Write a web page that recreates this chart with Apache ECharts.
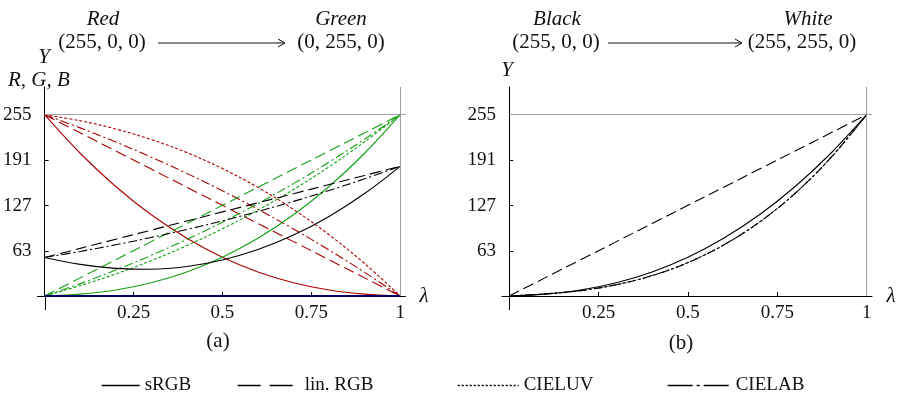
<!DOCTYPE html>
<html>
<head>
<meta charset="utf-8">
<script src="https://cdn.jsdelivr.net/npm/echarts@6/dist/echarts.min.js"></script>
<style>
  html, body { margin: 0; padding: 0; background: #fff; }
  #chart { width: 899px; height: 394px; }
</style>
</head>
<body>
<div id="chart"></div>
<script>
// interpolation parameter
const lambda = [0, 0.1, 0.2, 0.3, 0.4, 0.5, 0.6, 0.7, 0.8, 0.9, 1];

// (a) Red -> Green, linear-light channel values and luminance
const redSRGB   = [255, 200.8, 154.0, 114.2, 81.2, 54.6, 33.9, 18.7, 8.4, 2.6, 0];
const greenSRGB = [0, 2.6, 8.4, 18.7, 33.9, 54.6, 81.2, 114.2, 154.0, 200.8, 255];
const ySRGB     = [54.2, 44.5, 38.8, 37.6, 41.5, 50.7, 65.3, 85.7, 111.9, 144.1, 182.4];
const redLin    = [255, 229.5, 204, 178.5, 153, 127.5, 102, 76.5, 51, 25.5, 0];
const greenLin  = [0, 25.5, 51, 76.5, 102, 127.5, 153, 178.5, 204, 229.5, 255];
const yLin      = [54.2, 67.0, 79.8, 92.7, 105.5, 118.3, 131.1, 143.9, 156.8, 169.6, 182.4];
const redLuv    = [255, 246.5, 235.0, 220.1, 201.7, 179.3, 152.8, 121.8, 86.2, 45.7, 0];
const greenLuv  = [0, 14.5, 31.0, 49.7, 70.9, 94.5, 120.8, 149.8, 181.8, 216.9, 255];
const redLab    = [255, 236.5, 216.6, 195.3, 172.5, 148.1, 122.0, 94.2, 64.7, 33.2, 0];
const greenLab  = [0, 17.4, 36.5, 57.2, 79.6, 103.9, 130.0, 158.1, 188.3, 220.6, 255];
const yLab      = [54.2, 62.7, 72.1, 82.4, 93.6, 105.7, 118.9, 133.1, 148.4, 164.8, 182.4];
const blueAll   = [0, 0, 0, 0, 0, 0, 0, 0, 0, 0, 0];

// (b) Black -> White, luminance
const grayYSRGB = [0, 2.6, 8.4, 18.7, 33.9, 54.6, 81.2, 114.2, 154.0, 200.8, 255];
const grayYLin  = [0, 25.5, 51, 76.5, 102, 127.5, 153, 178.5, 204, 229.5, 255];
const grayYLab  = [0, 2.9, 7.6, 15.9, 28.7, 47.0, 71.7, 103.9, 144.5, 194.6, 255];

const yTicks = [63, 127, 191, 255];
const xTicks = [0.25, 0.5, 0.75, 1];
const legendNames = ["sRGB", "lin. RGB", "CIELUV", "CIELAB"];

const FONT = "Liberation Serif";
const RED = "#a80000", GREEN = "#12a012", NAVY = "#000070", BLACK = "#000";
const DASH = { solid: "solid", lin: [11, 5], luv: [3, 2], lab: [9, 3, 2, 3] };

function pairs(vals) {
  return lambda.map((l, i) => [l, vals[i]]);
}

function line(name, vals, color, dash, idx, width) {
  return {
    name: name,
    type: "line",
    xAxisIndex: idx,
    yAxisIndex: idx,
    data: pairs(vals),
    smooth: 0.35,
    symbol: "none",
    silent: true,
    clip: false,
    lineStyle: { color: color, width: width || 1.1, type: dash },
    itemStyle: { color: color },
  };
}

function frame(idx) {
  // light grey box lines at 255 and at lambda = 1
  return {
    type: "line",
    xAxisIndex: idx,
    yAxisIndex: idx,
    data: [],
    silent: true,
    markLine: {
      silent: true,
      symbol: ["none", "none"],
      label: { show: false },
      lineStyle: { color: "#a0a0a0", width: 1, type: "solid" },
      data: [
        [{ coord: [0, 255] }, { coord: [1.015, 255] }],
        [{ coord: [1, 0] }, { coord: [1, 294] }],
      ],
    },
  };
}

function xAxis(idx) {
  return {
    type: "value",
    gridIndex: idx,
    min: -0.02,
    max: 1.015,
    axisLine: { lineStyle: { color: BLACK, width: 1 } },
    axisTick: { inside: true, length: 4, customValues: xTicks, lineStyle: { color: BLACK } },
    axisLabel: {
      customValues: xTicks,
      margin: 8,
      color: "#111",
      fontFamily: FONT,
      fontSize: 19,
    },
    splitLine: { show: false },
  };
}

function yAxis(idx) {
  return {
    type: "value",
    gridIndex: idx,
    min: 0,
    max: 294,
    axisLine: { show: true, onZero: true, lineStyle: { color: BLACK, width: 1 } },
    axisTick: { show: true, inside: true, length: 4, customValues: yTicks, lineStyle: { color: BLACK } },
    axisLabel: {
      customValues: yTicks,
      margin: 6,
      color: "#111",
      fontFamily: FONT,
      fontSize: 19,
    },
    splitLine: { show: false },
  };
}

const LEG_LEFT  = [96, 232, 452, 662];
const LEG_WIDTH = [38, 62, 61, 63];
const LEG_DASH  = ["solid", [23, 9], [2, 2], [25, 4, 3, 4]];

const chart = echarts.init(document.getElementById("chart"), null, { renderer: "canvas" });

chart.setOption({
  animation: false,
  backgroundColor: "#fff",
  grid: [
    { left: 36, top: 87, width: 369.5, height: 209 },
    { left: 502, top: 87, width: 370, height: 209 },
  ],
  xAxis: [xAxis(0), xAxis(1)],
  yAxis: [yAxis(0), yAxis(1)],
  legend: legendNames.map((n, i) => ({
    data: [n],
    left: LEG_LEFT[i],
    top: 371,
    itemWidth: LEG_WIDTH[i],
    itemHeight: 12,
    selectedMode: false,
    itemStyle: { opacity: 0 },
    lineStyle: { type: LEG_DASH[i], width: 1.4 },
    textStyle: { fontFamily: FONT, fontSize: 19, color: "#111" },
  })),
  series: [
    frame(0),
    line("a red sRGB", redSRGB, RED, DASH.solid, 0),
    line("a red lin", redLin, RED, DASH.lin, 0),
    line("a red luv", redLuv, RED, DASH.luv, 0),
    line("a red lab", redLab, RED, DASH.lab, 0),
    line("a green sRGB", greenSRGB, GREEN, DASH.solid, 0),
    line("a green lin", greenLin, GREEN, DASH.lin, 0),
    line("a green luv", greenLuv, GREEN, DASH.luv, 0),
    line("a green lab", greenLab, GREEN, DASH.lab, 0),
    line("a Y sRGB", ySRGB, BLACK, DASH.solid, 0),
    line("a Y lin", yLin, BLACK, DASH.lin, 0),
    line("a Y lab", yLab, BLACK, DASH.lab, 0),
    line("a blue sRGB", blueAll, NAVY, DASH.solid, 0, 2),

    frame(1),
    line("sRGB", grayYSRGB, BLACK, DASH.solid, 1),
    line("lin. RGB", grayYLin, BLACK, DASH.lin, 1),
    line("CIELUV", grayYLab, BLACK, DASH.luv, 1),
    line("CIELAB", grayYLab, BLACK, DASH.lab, 1),
  ],
});

// headings, axis names and the small stub of each y axis below zero
function txt(x, y, s, opts) {
  return {
    type: "text",
    x: x,
    y: y,
    silent: true,
    style: Object.assign({
      text: s,
      fill: "#111",
      font: "21px '" + FONT + "'",
      align: "center",
      verticalAlign: "middle",
    }, opts || {}),
  };
}

function arrow(x1, x2, y) {
  return {
    type: "group",
    silent: true,
    children: [
      { type: "line", shape: { x1: x1, y1: y, x2: x2, y2: y }, style: { stroke: "#111", lineWidth: 1 } },
      { type: "polyline", shape: { points: [[x2 - 7, y - 4], [x2, y], [x2 - 7, y + 4]] }, style: { stroke: "#111", lineWidth: 1, fill: null } },
    ],
  };
}

const ITALIC = "italic 21px '" + FONT + "'";

const stubs = [0, 1].map(i => {
  const p = chart.convertToPixel({ xAxisIndex: i, yAxisIndex: i }, [0, 0]);
  const x = Math.round(p[0]) + 0.5;
  return { type: "line", silent: true, shape: { x1: x, y1: p[1], x2: x, y2: p[1] + 14 }, style: { stroke: "#000", lineWidth: 1 } };
});

chart.setOption({
  graphic: stubs.concat([
    // panel (a)
    txt(103, 19, "Red", { font: ITALIC }),
    txt(102, 42, "(255, 0, 0)"),
    arrow(158, 285, 43),
    txt(341, 19, "Green", { font: ITALIC }),
    txt(341, 42, "(0, 255, 0)"),
    txt(44, 57, "Y", { font: ITALIC }),
    txt(8, 80, "R, G, B", { font: ITALIC, align: "left" }),
    txt(424, 296, "λ", { font: ITALIC }),
    txt(218, 341, "(a)"),
    // panel (b)
    txt(557, 19, "Black", { font: ITALIC }),
    txt(556, 42, "(255, 0, 0)"),
    arrow(608, 742, 43),
    txt(808, 19, "White", { font: ITALIC }),
    txt(802, 42, "(255, 255, 0)"),
    txt(507, 70, "Y", { font: ITALIC }),
    txt(891, 296, "λ", { font: ITALIC }),
    txt(681, 343, "(b)"),
  ]),
});
</script>
</body>
</html>
